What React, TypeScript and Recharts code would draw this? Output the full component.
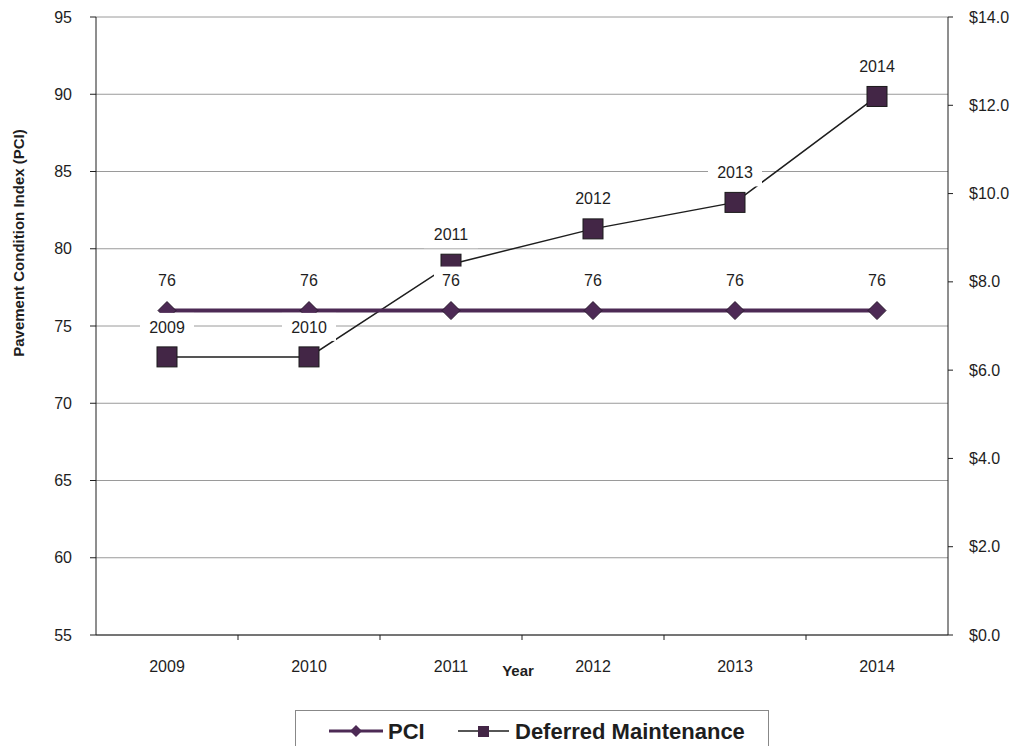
import {
  CartesianGrid,
  LabelList,
  Legend,
  Line,
  LineChart,
  XAxis,
  YAxis,
} from "recharts";

const YEARS = ["2009", "2010", "2011", "2012", "2013", "2014"];
const PCI = [76, 76, 76, 76, 76, 76];
// deferred maintenance, $ millions
const DEFERRED = [6.3, 6.3, 8.4, 9.2, 9.8, 12.2];
const PCI_TICKS = [55, 60, 65, 70, 75, 80, 85, 90, 95];
const COST_TICKS = [0, 2, 4, 6, 8, 10, 12, 14];

const data = YEARS.map((year, i) => ({
  year,
  pci: PCI[i],
  deferred: DEFERRED[i],
}));

const FONT = "'Liberation Sans', Arial, Helvetica, sans-serif";
const PURPLE = "#4d2a55";
const SQUARE = "#432646";
const INK = "#1e1e1e";
const HALF_BAND = 71;

function Diamond({ cx, cy, index }: any) {
  const r = 9;
  return (
    <polygon
      key={`d-${index}`}
      points={`${cx},${cy - r} ${cx + r},${cy} ${cx},${cy + r} ${cx - r},${cy}`}
      fill={PURPLE}
      stroke="#2a1a2e"
      strokeWidth={1}
    />
  );
}

function Square({ cx, cy, index }: any) {
  const s = 20;
  return (
    <rect
      key={`s-${index}`}
      x={cx - s / 2}
      y={cy - s / 2}
      width={s}
      height={s}
      fill={SQUARE}
      stroke="#1a1a1a"
      strokeWidth={1}
    />
  );
}

// value label on a white box, 30px above the point
function boxLabel(width: number) {
  return (props: any) => {
    const { x, y, value } = props;
    const cy = y - 30;
    return (
      <g>
        <rect x={x - width / 2} y={cy - 14} width={width} height={28} fill="#fff" />
        <text
          x={x}
          y={cy}
          dy="0.35em"
          textAnchor="middle"
          fontSize={16}
          fill={INK}
          fontFamily={FONT}
        >
          {value}
        </text>
      </g>
    );
  };
}

function YearTick({ x, y, payload, index }: any) {
  return (
    <g>
      {index > 0 && (
        <line x1={x - HALF_BAND} y1={y} x2={x - HALF_BAND} y2={y + 5} stroke={INK} />
      )}
      <text x={x} y={y + 37} textAnchor="middle" fontSize={16} fill={INK}>
        {payload.value}
      </text>
    </g>
  );
}

function CostTick({ x, y, payload }: any) {
  return (
    <text x={x + 14} y={y} dy="0.35em" textAnchor="start" fontSize={16} fill={INK}>
      {`$${payload.value.toFixed(1)}`}
    </text>
  );
}

function LegendBox() {
  return (
    <div
      style={{
        marginLeft: 295,
        width: 474,
        height: 36,
        boxSizing: "border-box",
        border: "1px solid #888",
        borderBottom: "none",
        background: "#fff",
      }}
    >
      <svg width={472} height={35} style={{ display: "block" }}>
        <line x1={33} y1={20} x2={87} y2={20} stroke={PURPLE} strokeWidth={3} />
        <polygon points="60,14 66,20 60,26 54,20" fill={PURPLE} />
        <text x={92} y={28} fontSize={22} fontWeight="bold" fill={INK} fontFamily={FONT}>
          PCI
        </text>
        <line x1={162} y1={20} x2={213} y2={20} stroke={INK} strokeWidth={1.5} />
        <rect x={182} y={15} width={11} height={11} fill={SQUARE} />
        <text x={219} y={28} fontSize={22} fontWeight="bold" fill={INK} fontFamily={FONT}>
          Deferred Maintenance
        </text>
      </svg>
    </div>
  );
}

export default function App() {
  return (
    <div
      style={{
        position: "fixed",
        left: 0,
        top: 0,
        width: 1012,
        height: 746,
        overflow: "hidden",
        background: "#fff",
        fontFamily: FONT,
      }}
    >
      <LineChart
        width={1012}
        height={746}
        data={data}
        margin={{ top: 17, right: 0, bottom: 0, left: 0 }}
        style={{ fontFamily: FONT }}
      >
        <CartesianGrid yAxisId="left" vertical={false} stroke="#9a9a9a" />
        <XAxis
          dataKey="year"
          scale="band"
          height={75}
          tickLine={false}
          tickSize={0}
          tickMargin={0}
          axisLine={{ stroke: INK }}
          tick={<YearTick />}
          interval={0}
          label={() => (
            <text
              x={518}
              y={676}
              textAnchor="middle"
              fontSize={15}
              fontWeight="bold"
              fill={INK}
            >
              Year
            </text>
          )}
        />
        <YAxis
          yAxisId="left"
          width={96}
          domain={[55, 95]}
          ticks={PCI_TICKS}
          interval={0}
          tickSize={6}
          tickMargin={18}
          axisLine={{ stroke: INK }}
          tickLine={{ stroke: INK }}
          tick={{ fontSize: 16, fill: INK }}
          label={() => (
            <text
              x={24}
              y={243}
              transform="rotate(-90, 24, 243)"
              textAnchor="middle"
              fontSize={15}
              fontWeight="bold"
              fill={INK}
            >
              Pavement Condition Index (PCI)
            </text>
          )}
        />
        <YAxis
          yAxisId="right"
          orientation="right"
          width={64}
          domain={[0, 14]}
          ticks={COST_TICKS}
          interval={0}
          tickSize={5}
          tickMargin={2}
          axisLine={{ stroke: INK }}
          tickLine={{ stroke: INK }}
          tick={<CostTick />}
        />
        <Legend
          verticalAlign="bottom"
          height={36}
          wrapperStyle={{ left: 0, bottom: 0 }}
          content={() => <LegendBox />}
        />
        <Line
          yAxisId="right"
          dataKey="deferred"
          name="Deferred Maintenance"
          type="linear"
          stroke={INK}
          strokeWidth={1.5}
          dot={<Square />}
          activeDot={false}
          isAnimationActive={false}
        >
          <LabelList dataKey="year" content={boxLabel(54)} />
        </Line>
        <Line
          yAxisId="left"
          dataKey="pci"
          name="PCI"
          type="linear"
          stroke={PURPLE}
          strokeWidth={4}
          dot={<Diamond />}
          activeDot={false}
          isAnimationActive={false}
        >
          <LabelList dataKey="pci" content={boxLabel(34)} />
        </Line>
      </LineChart>
    </div>
  );
}
